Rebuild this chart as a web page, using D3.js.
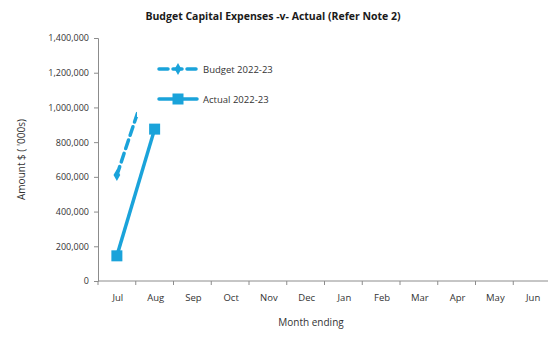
<!DOCTYPE html>
<html>
<head>
<meta charset="utf-8">
<script src="https://cdn.jsdelivr.net/npm/d3@7"></script>
<style>
  html, body { margin: 0; padding: 0; background: #fff; overflow: hidden; }
  svg { display: block; font-family: "Open Sans", "Liberation Sans", sans-serif; }
</style>
</head>
<body>
<svg id="chart" width="548" height="338"></svg>
<script>
// Monthly categories (financial year Jul–Jun)
const months = ["Jul", "Aug", "Sep", "Oct", "Nov", "Dec", "Jan", "Feb", "Mar", "Apr", "May", "Jun"];
// Cumulative capital expenses, $'000s
const budgetValues = [610000, 1265000];
const actualValues = [145000, 875000];
const yTicks = [0, 200000, 400000, 600000, 800000, 1000000, 1200000, 1400000];

const colour = "#1aa3da";
const axisColour = "#8c8c8c";

const svg = d3.select("#chart");
const W = 548, H = 338;
const plotLeft = 98, plotRight = 551, plotTop = 38, plotBottom = 281;

const x = d3.scaleBand().domain(months).range([plotLeft, plotRight]);
const y = d3.scaleLinear().domain([0, 1400000]).range([plotBottom, plotTop]);

// Title
svg.append("text")
  .attr("x", 273).attr("y", 20)
  .attr("text-anchor", "middle")
  .attr("font-size", 10.5).attr("font-weight", "bold")
  .attr("fill", "#1a1a1a")
  .text("Budget Capital Expenses -v- Actual (Refer Note 2)");

// Y axis
const yAxis = svg.append("g")
  .attr("transform", `translate(${plotLeft},0)`)
  .call(d3.axisLeft(y).tickValues(yTicks).tickSize(4).tickPadding(5)
    .tickFormat(d3.format(",")));
yAxis.select(".domain").attr("stroke", axisColour);
yAxis.selectAll(".tick line").attr("stroke", axisColour);
yAxis.selectAll("text").attr("font-size", 9).attr("fill", "#333")
  .attr("font-family", "'Open Sans', 'Liberation Sans', sans-serif");

// X axis with ticks at category boundaries
const xAxisG = svg.append("g")
  .attr("transform", `translate(0,${y(0)})`);
xAxisG.append("line")
  .attr("x1", plotLeft).attr("x2", plotRight)
  .attr("y1", 0).attr("y2", 0)
  .attr("stroke", axisColour);
const boundaries = months.map(m => x(m));
xAxisG.selectAll("line.tk").data(boundaries).join("line")
  .attr("class", "tk")
  .attr("x1", d => d).attr("x2", d => d)
  .attr("y1", 0).attr("y2", 4)
  .attr("stroke", axisColour);
xAxisG.selectAll("text").data(months).join("text")
  .attr("x", d => x(d) + x.bandwidth() / 2 + 1)
  .attr("y", 20)
  .attr("text-anchor", "middle")
  .attr("font-size", 9.5).attr("fill", "#333")
  .text(d => d);

// Axis titles
svg.append("text")
  .attr("transform", `translate(25,${(plotBottom + plotTop) / 2}) rotate(-90)`)
  .attr("text-anchor", "middle")
  .attr("font-size", 10).attr("fill", "#333")
  .text("Amount $ ( '000s)");
svg.append("text")
  .attr("x", 311)
  .attr("y", 326)
  .attr("text-anchor", "middle")
  .attr("font-size", 10).attr("fill", "#333")
  .text("Month ending");

const cx = (i) => x(months[i]) + x.bandwidth() / 2;

// Budget series: dashed with diamond markers
const line = d3.line().x((d, i) => cx(i)).y(d => y(d));
svg.append("path")
  .datum(budgetValues)
  .attr("d", line)
  .attr("fill", "none")
  .attr("stroke", colour)
  .attr("stroke-width", 3.5)
  .attr("stroke-dasharray", "9,5")
  .attr("stroke-linecap", "round");
const diamond = d3.symbol().type(d3.symbolDiamond).size(40);
svg.selectAll("path.bm").data(budgetValues).join("path")
  .attr("class", "bm")
  .attr("d", diamond)
  .attr("transform", (d, i) => `translate(${cx(i)},${y(d)})`)
  .attr("fill", colour);

// Actual series: solid with square markers
svg.append("path")
  .datum(actualValues)
  .attr("d", line)
  .attr("fill", "none")
  .attr("stroke", colour)
  .attr("stroke-width", 3.5);
svg.selectAll("rect.am").data(actualValues).join("rect")
  .attr("class", "am")
  .attr("x", (d, i) => cx(i) - 5.5)
  .attr("y", d => y(d) - 5.5)
  .attr("width", 11).attr("height", 11)
  .attr("fill", colour);

// Legend box (opaque, drawn over the plot)
const lg = svg.append("g");
lg.append("rect")
  .attr("x", 137).attr("y", 53)
  .attr("width", 160).attr("height", 64)
  .attr("fill", "#fff");
const legendItems = [
  { label: "Budget 2022-23", y: 69, dashed: true },
  { label: "Actual 2022-23", y: 99, dashed: false }
];
legendItems.forEach(it => {
  lg.append("line")
    .attr("x1", 159).attr("x2", 197)
    .attr("y1", it.y).attr("y2", it.y)
    .attr("stroke", colour).attr("stroke-width", 3.5)
    .attr("stroke-linecap", "round")
    .attr("stroke-dasharray", it.dashed ? "9,5" : null);
  if (it.dashed) {
    lg.append("path").attr("d", diamond)
      .attr("transform", `translate(178,${it.y})`).attr("fill", colour);
  } else {
    lg.append("rect").attr("x", 172.5).attr("y", it.y - 5.5)
      .attr("width", 11).attr("height", 11).attr("fill", colour);
  }
  lg.append("text")
    .attr("x", 203).attr("y", it.y + 3.5)
    .attr("font-size", 9.5).attr("fill", "#333")
    .text(it.label);
});
</script>
</body>
</html>
